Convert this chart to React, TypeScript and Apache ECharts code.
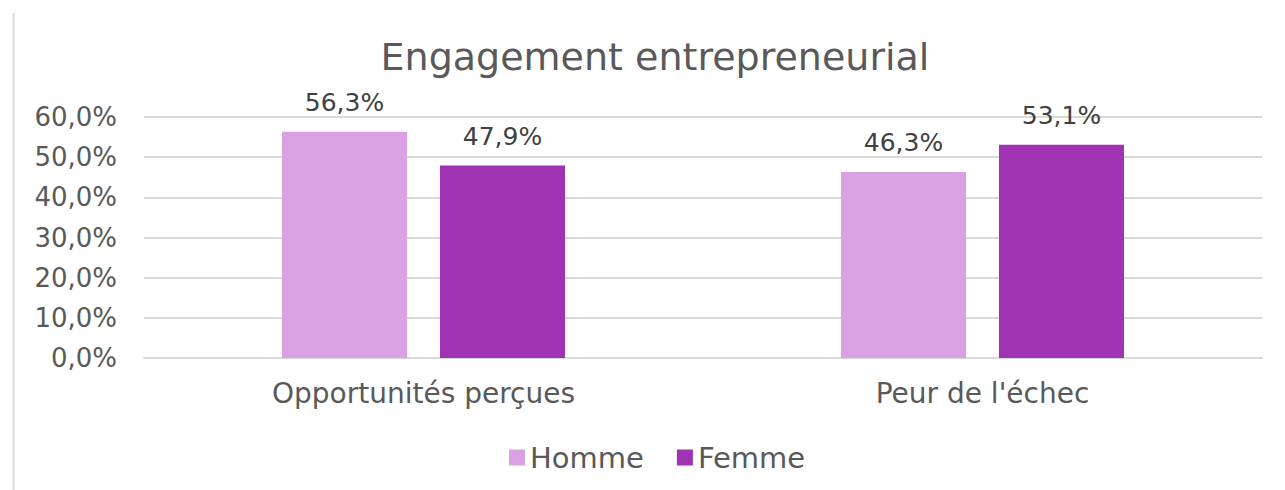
import React, { useEffect, useRef } from "react";
import * as echarts from "echarts";

const categories = ["Opportunités perçues", "Peur de l'échec"];
const hommeValues = [56.3, 46.3];
const femmeValues = [47.9, 53.1];
const seriesNames = ["Homme", "Femme"];
const yTicks = { min: 0, max: 60, interval: 10 };
const titleText = "Engagement entrepreneurial";

const FONT = "'DejaVu Sans', sans-serif";
const fmt = (v: number) => v.toFixed(1).replace(".", ",") + "%";

export default function App() {
  const ref = useRef<HTMLDivElement>(null);
  useEffect(() => {
    document.body.style.margin = "0";
    const chart = echarts.init(ref.current!, null, { renderer: "svg" });
    const barLabel = {
      show: true,
      position: "top",
      distance: 17,
      fontFamily: FONT,
      fontSize: 25,
      color: "#404040",
      formatter: (p: any) => fmt(p.value),
    };
    chart.setOption({
      animation: false,
      backgroundColor: "#ffffff",
      textStyle: { fontFamily: FONT },
      graphic: [
        {
          type: "line",
          shape: { x1: 13.5, y1: 13, x2: 13.5, y2: 490 },
          style: { stroke: "#D9D9D9", lineWidth: 2 },
          silent: true,
        },
        {
          type: "text",
          x: 655,
          y: 57,
          style: {
            text: titleText,
            fontFamily: FONT,
            fontSize: 38,
            fill: "#595959",
            textAlign: "center",
            textVerticalAlign: "middle",
          },
        },
      ],
      grid: { left: 144, right: 23, top: 117, bottom: 132, containLabel: false },
      legend: {
        data: seriesNames,
        left: 504,
        top: 438,
        itemWidth: 16,
        itemHeight: 16,
        itemGap: 33,
        icon: "rect",
        textStyle: { fontFamily: FONT, fontSize: 29, color: "#595959" },
      },
      xAxis: {
        type: "category",
        data: categories,
        axisLine: { show: true, lineStyle: { color: "#D9D9D9", width: 2 } },
        axisTick: { show: false },
        axisLabel: { fontFamily: FONT, fontSize: 28, color: "#595959", margin: 21 },
      },
      yAxis: {
        type: "value",
        min: yTicks.min,
        max: yTicks.max,
        interval: yTicks.interval,
        axisLine: { show: false },
        axisTick: { show: false },
        splitLine: { lineStyle: { color: "#D9D9D9", width: 2 } },
        axisLabel: {
          fontFamily: FONT,
          fontSize: 26,
          color: "#595959",
          margin: 27,
          formatter: (v: number) => fmt(v),
        },
      },
      series: [
        {
          name: seriesNames[0],
          type: "bar",
          data: hommeValues,
          barWidth: 125,
          barGap: "26.4%",
          itemStyle: { color: "#D9A0E2" },
          label: barLabel,
        },
        {
          name: seriesNames[1],
          type: "bar",
          data: femmeValues,
          barWidth: 125,
          barGap: "26.4%",
          itemStyle: { color: "#A033B4" },
          label: barLabel,
        },
      ],
    });
    return () => chart.dispose();
  }, []);
  return (
    <div
      ref={ref}
      style={{ position: "absolute", left: 0, top: 0, width: 1285, height: 490 }}
    />
  );
}
